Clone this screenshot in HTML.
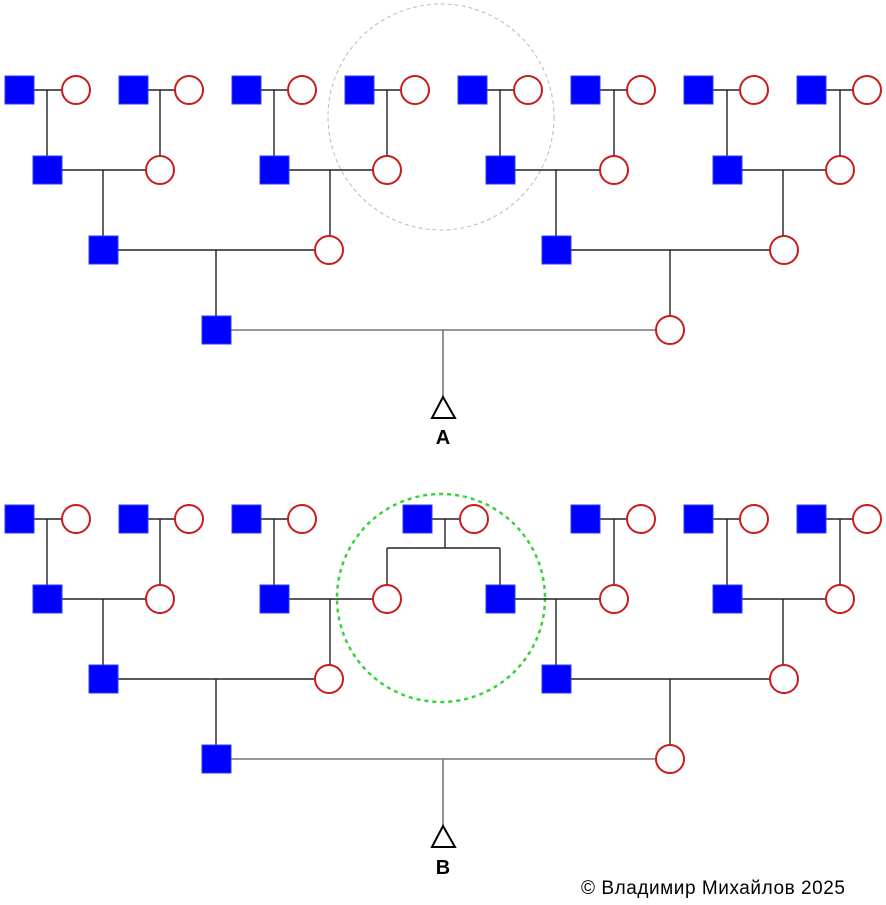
<!DOCTYPE html>
<html><head><meta charset="utf-8"><style>
html,body{margin:0;padding:0;background:#fff;width:886px;height:905px;overflow:hidden}
svg{display:block}
.s{fill:#0000ff;stroke:#2a3cff;stroke-width:1}
.c{fill:#fff;stroke:#cc1b1b;stroke-width:2}
.l{stroke:#222;stroke-width:1.4;fill:none}
.g{stroke:#777;stroke-width:1.6;fill:none}
</style></head><body>
<svg width="886" height="905" viewBox="0 0 886 905" xmlns="http://www.w3.org/2000/svg">
<!-- TOP -->
<circle cx="441" cy="117" r="113" fill="none" stroke="#bbb" stroke-width="1" stroke-dasharray="4,3"/>
<g class="l">
<path d="M19 90H76M133 90H189M246 90H302M359 90H415M472 90H528M585 90H641M698 90H754M811 90H867"/>
<path d="M47 90V156M160 90V156M274 90V156M387 90V156M500 90V156M614 90V156M727 90V156M840 90V156"/>
<path d="M47 170H160M274 170H387M500 170H614M727 170H840"/>
<path d="M103 170V236M330 170V236M556 170V236M783 170V236"/>
<path d="M103 250H329M556 250H783"/>
<path d="M216 250V316M670 250V316"/>
</g>
<path class="g" d="M216 330H670"/>
<path class="g" d="M443 330V398"/>
<polygon points="443,397 432,418 455,418" fill="#fff" stroke="#000" stroke-width="2"/>
<text x="443" y="444" font-family="Liberation Sans, sans-serif" font-weight="bold" font-size="20" text-anchor="middle">A</text>
<g>
<rect class="s" x="5" y="76" width="29" height="28"/><rect class="s" x="119" y="76" width="29" height="28"/><rect class="s" x="232" y="76" width="29" height="28"/><rect class="s" x="345" y="76" width="29" height="28"/><rect class="s" x="458" y="76" width="29" height="28"/><rect class="s" x="571" y="76" width="29" height="28"/><rect class="s" x="684" y="76" width="29" height="28"/><rect class="s" x="797" y="76" width="29" height="28"/>
<circle class="c" cx="76" cy="90" r="14"/><circle class="c" cx="189" cy="90" r="14"/><circle class="c" cx="302" cy="90" r="14"/><circle class="c" cx="415" cy="90" r="14"/><circle class="c" cx="528" cy="90" r="14"/><circle class="c" cx="641" cy="90" r="14"/><circle class="c" cx="754" cy="90" r="14"/><circle class="c" cx="867" cy="90" r="14"/>
<rect class="s" x="33" y="156" width="29" height="28"/><rect class="s" x="260" y="156" width="29" height="28"/><rect class="s" x="486" y="156" width="29" height="28"/><rect class="s" x="713" y="156" width="29" height="28"/>
<circle class="c" cx="160" cy="170" r="14"/><circle class="c" cx="387" cy="170" r="14"/><circle class="c" cx="614" cy="170" r="14"/><circle class="c" cx="840" cy="170" r="14"/>
<rect class="s" x="89" y="236" width="29" height="28"/><rect class="s" x="542" y="236" width="29" height="28"/>
<circle class="c" cx="329" cy="250" r="14"/><circle class="c" cx="784" cy="250" r="14"/>
<rect class="s" x="202" y="316" width="29" height="28"/>
<circle class="c" cx="670" cy="330" r="14"/>
</g>

<!-- BOTTOM -->
<circle cx="441" cy="598" r="104" fill="none" stroke="#3ad23a" stroke-width="2.5" stroke-dasharray="4,4"/>
<g class="l">
<path d="M19 519H76M133 519H189M246 519H302M417 519H474M585 519H641M698 519H754M811 519H867"/>
<path d="M47 519V585M160 519V585M274 519V585M614 519V585M727 519V585M840 519V585"/>
<path d="M445 519V548M387 548H500M387 548V585M500 548V585"/>
<path d="M47 599H160M274 599H387M500 599H614M727 599H840"/>
<path d="M103 599V665M330 599V665M556 599V665M783 599V665"/>
<path d="M103 679H329M556 679H783"/>
<path d="M216 679V745M670 679V745"/>
</g>
<path class="g" d="M216 759H670"/>
<path class="g" d="M443 759V827"/>
<polygon points="443,826 432,847 455,847" fill="#fff" stroke="#000" stroke-width="2"/>
<text x="443" y="874" font-family="Liberation Sans, sans-serif" font-weight="bold" font-size="20" text-anchor="middle">B</text>
<g>
<rect class="s" x="5" y="505" width="29" height="28"/><rect class="s" x="119" y="505" width="29" height="28"/><rect class="s" x="232" y="505" width="29" height="28"/><rect class="s" x="403" y="505" width="29" height="28"/><rect class="s" x="571" y="505" width="29" height="28"/><rect class="s" x="684" y="505" width="29" height="28"/><rect class="s" x="797" y="505" width="29" height="28"/>
<circle class="c" cx="76" cy="519" r="14"/><circle class="c" cx="189" cy="519" r="14"/><circle class="c" cx="302" cy="519" r="14"/><circle class="c" cx="474" cy="519" r="14"/><circle class="c" cx="641" cy="519" r="14"/><circle class="c" cx="754" cy="519" r="14"/><circle class="c" cx="867" cy="519" r="14"/>
<rect class="s" x="33" y="585" width="29" height="28"/><rect class="s" x="260" y="585" width="29" height="28"/><rect class="s" x="486" y="585" width="29" height="28"/><rect class="s" x="713" y="585" width="29" height="28"/>
<circle class="c" cx="160" cy="599" r="14"/><circle class="c" cx="387" cy="599" r="14"/><circle class="c" cx="614" cy="599" r="14"/><circle class="c" cx="840" cy="599" r="14"/>
<rect class="s" x="89" y="665" width="29" height="28"/><rect class="s" x="542" y="665" width="29" height="28"/>
<circle class="c" cx="329" cy="679" r="14"/><circle class="c" cx="784" cy="679" r="14"/>
<rect class="s" x="202" y="745" width="29" height="28"/>
<circle class="c" cx="670" cy="759" r="14"/>
</g>
<text x="581" y="894" font-family="Liberation Sans, sans-serif" font-size="19" fill="#000" textLength="264">© Владимир Михайлов 2025</text>
</svg>
</body></html>
